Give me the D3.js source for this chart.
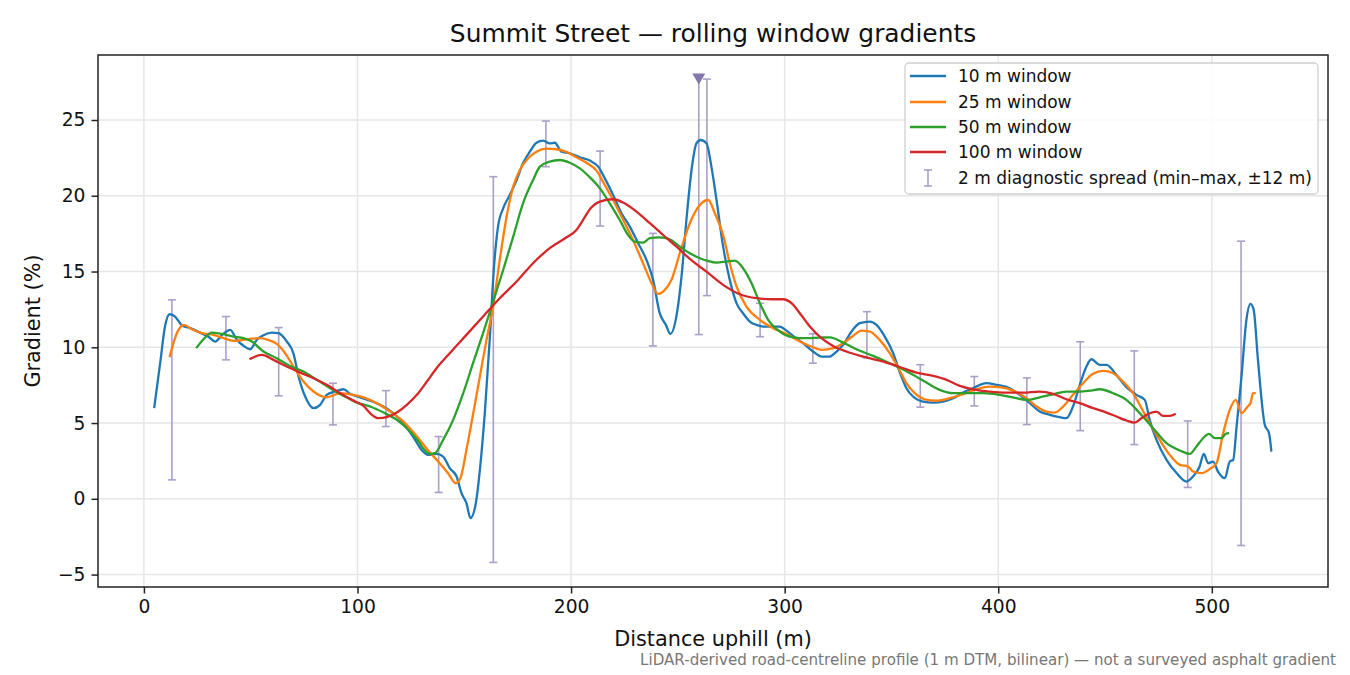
<!DOCTYPE html>
<html>
<head>
<meta charset="utf-8">
<script src="https://cdn.jsdelivr.net/npm/d3@7"></script>
<style>
  body { margin: 0; background: #fff; }
  svg { font-family: "DejaVu Sans", sans-serif; }
</style>
</head>
<body>
<div id="chart"></div>
<script>
// ---- data ----
const dist10 = [4.8, 7.6, 9.9, 12.0, 14.2, 18.2, 21.7, 26.3, 30.2, 33.4, 36.5, 40.4, 43.5, 46.6, 49.7, 52.9, 56.0, 59.9, 63.0, 66.9, 70.0, 72.4, 75.5, 79.4, 82.5, 85.6, 89.5, 93.5, 96.5, 101.2, 105.9, 110.6, 116.7, 121.4, 126.0, 130.0, 133.1, 137.0, 140.1, 143.2, 146.4, 148.7, 151.0, 152.9, 155.4, 157.3, 159.6, 162.0, 163.8, 165.8, 168.2, 171.3, 174.5, 177.5, 180.7, 183.8, 186.9, 190.0, 192.4, 195.5, 199.4, 204.1, 208.8, 212.7, 215.8, 219.7, 223.6, 227.5, 231.4, 235.3, 238.4, 241.5, 244.4, 246.5, 249.0, 251.7, 254.0, 256.4, 258.7, 260.6, 263.4, 265.7, 268.1, 271.2, 274.3, 277.5, 280.5, 283.7, 286.8, 289.9, 293.0, 297.7, 300.9, 303.9, 308.6, 313.3, 317.2, 321.1, 324.3, 327.4, 331.3, 335.2, 339.9, 343.0, 346.9, 350.8, 353.9, 357.0, 360.1, 364.8, 369.5, 374.2, 378.9, 383.5, 388.2, 394.5, 399.2, 405.4, 410.1, 414.8, 419.4, 424.1, 428.8, 431.9, 435.0, 438.2, 441.3, 443.6, 447.5, 450.7, 455.3, 460.0, 464.7, 468.6, 470.9, 474.1, 478.8, 483.5, 488.1, 491.2, 494.3, 496.2, 498.3, 500.6, 502.9, 506.1, 508.4, 510.0, 511.6, 513.9, 516.2, 518.1, 519.6, 521.6, 524.8, 526.8, 527.9];
const grad10 = [5.98, 8.95, 11.4, 12.18, 12.07, 11.4, 11.26, 10.97, 10.7, 10.38, 10.8, 11.15, 10.5, 10.1, 9.87, 10.5, 10.8, 10.97, 10.93, 10.38, 9.6, 8.07, 6.75, 5.98, 6.2, 6.86, 7.08, 7.23, 6.93, 6.7, 6.48, 6.2, 5.65, 4.99, 4.11, 3.23, 2.9, 2.97, 2.79, 2.02, 1.47, 0.37, -0.29, -1.27, -0.29, 1.91, 5.65, 10.7, 15.1, 17.96, 19.17, 20.05, 21.04, 22.14, 22.91, 23.5, 23.64, 23.46, 23.5, 22.91, 22.8, 22.54, 22.32, 21.92, 21.15, 20.05, 18.85, 17.96, 16.87, 15.77, 14.45, 12.25, 11.48, 10.88, 11.81, 14.66, 18.4, 21.7, 23.46, 23.68, 23.46, 21.92, 19.72, 16.64, 14.45, 12.9, 12.25, 11.7, 11.48, 11.37, 11.37, 11.37, 11.1, 10.75, 10.27, 9.72, 9.39, 9.39, 9.72, 10.16, 11.04, 11.59, 11.7, 11.48, 10.7, 9.61, 8.35, 7.3, 6.75, 6.42, 6.35, 6.42, 6.64, 7.01, 7.3, 7.63, 7.52, 7.3, 6.86, 6.31, 5.76, 5.54, 5.39, 5.32, 6.09, 7.52, 8.73, 9.21, 8.84, 8.84, 8.18, 7.37, 6.86, 6.53, 5.21, 3.89, 2.57, 1.7, 1.14, 1.47, 2.13, 2.97, 2.35, 2.46, 1.8, 1.36, 2.46, 2.57, 4.77, 8.07, 11.81, 12.86, 12.47, 9.17, 4.88, 4.33, 3.12];

const dist25 = [12.0, 15.4, 18.8, 22.4, 27.1, 32.6, 37.3, 42.0, 48.2, 54.4, 59.1, 62.2, 66.1, 70.0, 74.7, 79.4, 85.6, 91.9, 98.1, 102.8, 109.1, 115.3, 121.5, 127.8, 133.9, 138.5, 142.4, 146.0, 148.2, 151.0, 154.2, 157.3, 160.4, 163.5, 166.6, 169.8, 172.9, 176.0, 179.9, 183.8, 188.5, 193.2, 197.9, 202.5, 207.2, 211.9, 215.8, 219.7, 224.4, 229.0, 233.7, 237.7, 240.7, 243.9, 247.0, 250.9, 255.6, 260.3, 264.2, 267.3, 271.2, 274.3, 277.5, 282.1, 288.4, 294.6, 300.9, 307.1, 313.3, 317.2, 322.7, 327.4, 332.0, 336.0, 339.9, 344.5, 349.2, 353.9, 357.0, 360.9, 365.6, 371.1, 377.3, 383.5, 389.8, 396.0, 400.7, 406.9, 413.2, 417.9, 422.6, 426.4, 430.4, 435.0, 439.7, 444.4, 449.1, 453.8, 458.4, 463.1, 467.1, 470.9, 475.6, 480.3, 485.0, 488.9, 491.2, 495.1, 499.0, 502.2, 505.3, 508.4, 511.2, 513.9, 516.5, 518.1, 519.3, 520.6];
const grad25 = [9.35, 10.93, 11.48, 11.19, 10.93, 10.82, 10.6, 10.42, 10.53, 10.6, 10.44, 10.22, 9.61, 8.73, 7.74, 7.08, 6.7, 6.97, 6.86, 6.7, 6.31, 5.76, 5.1, 4.11, 3.05, 2.35, 1.69, 1.03, 1.36, 3.23, 5.65, 8.07, 10.49, 12.69, 15.77, 18.62, 20.6, 21.7, 22.47, 22.91, 23.11, 23.07, 22.89, 22.54, 22.18, 21.66, 20.71, 19.72, 18.4, 17.08, 15.55, 14.23, 13.52, 13.79, 14.45, 16.21, 18.19, 19.39, 19.72, 18.85, 17.41, 15.55, 14.0, 12.69, 11.81, 11.26, 10.88, 10.38, 10.0, 9.83, 9.94, 10.27, 10.75, 11.1, 11.04, 10.49, 9.61, 8.45, 7.63, 6.97, 6.57, 6.48, 6.64, 6.9, 7.23, 7.41, 7.37, 7.14, 6.64, 6.09, 5.76, 5.69, 6.09, 6.86, 7.63, 8.25, 8.44, 8.29, 7.74, 6.97, 5.98, 4.99, 3.89, 2.9, 2.24, 2.13, 1.8, 1.69, 1.96, 2.35, 4.33, 5.87, 6.53, 5.65, 6.05, 6.31, 6.97, 6.97];

const dist50 = [24.5, 27.9, 31.8, 36.5, 42.0, 46.6, 50.5, 56.0, 62.2, 68.5, 74.7, 81.0, 87.2, 93.5, 99.7, 105.9, 112.2, 118.4, 124.6, 128.5, 130.7, 133.9, 136.2, 140.1, 144.8, 149.5, 154.1, 158.8, 163.5, 168.2, 172.9, 177.5, 182.2, 185.4, 190.0, 194.7, 199.4, 204.1, 208.8, 213.5, 218.1, 222.8, 226.7, 229.8, 233.7, 236.9, 241.5, 246.2, 250.9, 255.6, 260.3, 264.0, 268.1, 272.8, 276.7, 280.5, 284.5, 288.4, 292.3, 297.7, 303.9, 310.2, 316.5, 321.1, 327.4, 333.6, 341.4, 349.2, 354.4, 360.1, 366.4, 372.6, 378.9, 385.1, 392.9, 400.7, 406.9, 413.2, 419.4, 425.7, 431.9, 438.2, 442.9, 447.5, 453.8, 460.0, 466.3, 472.5, 478.8, 485.0, 489.7, 492.8, 495.9, 498.7, 501.4, 504.5, 506.5, 508.1];
const grad50 = [9.94, 10.53, 10.97, 10.88, 10.71, 10.6, 10.38, 9.72, 9.28, 8.77, 8.4, 7.85, 7.3, 6.79, 6.35, 6.09, 5.69, 5.21, 4.44, 3.8, 3.34, 2.97, 3.01, 3.89, 5.21, 6.97, 8.95, 10.93, 13.01, 15.1, 17.3, 19.5, 21.04, 21.92, 22.25, 22.36, 22.18, 21.81, 21.22, 20.49, 19.5, 18.4, 17.41, 16.97, 16.91, 17.2, 17.26, 17.13, 16.64, 16.21, 15.88, 15.7, 15.59, 15.66, 15.72, 15.22, 14.23, 12.91, 11.81, 11.04, 10.66, 10.6, 10.64, 10.66, 10.31, 9.87, 9.43, 8.95, 8.62, 8.18, 7.67, 7.19, 6.97, 6.97, 6.97, 6.86, 6.7, 6.53, 6.7, 6.9, 7.08, 7.08, 7.14, 7.23, 6.97, 6.53, 5.65, 4.66, 3.67, 3.19, 2.97, 3.45, 4.0, 4.29, 4.0, 4.0, 4.29, 4.33];

const dist100 = [49.4, 55.2, 60.7, 66.9, 73.2, 79.4, 85.6, 91.9, 98.1, 102.8, 105.9, 109.8, 113.7, 118.4, 123.1, 127.8, 132.5, 137.0, 143.2, 151.0, 158.8, 166.6, 174.5, 182.2, 190.0, 197.9, 202.5, 205.6, 208.8, 213.5, 219.7, 224.4, 230.6, 236.9, 243.1, 249.4, 255.6, 263.4, 271.2, 279.0, 286.8, 294.6, 299.3, 303.2, 307.1, 311.8, 317.2, 322.7, 328.9, 336.7, 344.5, 353.9, 361.7, 369.5, 375.8, 382.0, 388.2, 396.0, 403.9, 411.6, 419.4, 425.7, 431.9, 438.2, 444.4, 450.7, 455.3, 460.0, 463.8, 467.0, 470.9, 474.1, 477.2, 480.3, 483.1];
const grad100 = [9.21, 9.5, 9.17, 8.73, 8.33, 7.96, 7.52, 6.97, 6.48, 6.13, 5.65, 5.32, 5.39, 5.69, 6.2, 6.86, 7.74, 8.62, 9.61, 10.82, 12.03, 13.24, 14.34, 15.55, 16.54, 17.26, 17.74, 18.4, 19.11, 19.61, 19.77, 19.55, 18.95, 18.19, 17.41, 16.64, 15.83, 14.99, 14.12, 13.5, 13.24, 13.17, 13.17, 12.91, 12.25, 11.37, 10.6, 10.09, 9.72, 9.39, 9.12, 8.7, 8.33, 8.11, 7.85, 7.45, 7.23, 7.08, 7.01, 7.01, 7.08, 6.93, 6.57, 6.31, 5.98, 5.69, 5.43, 5.17, 5.03, 5.32, 5.65, 5.76, 5.47, 5.47, 5.61];

// 2 m diagnostic spread (min–max within ±12 m)
const spreadDist = [13.1, 38.4, 63.1, 88.5, 113.3, 138.0, 163.6, 188.2, 213.6, 238.3, 263.6, 288.5, 313.2, 338.5, 363.5, 388.8, 413.4, 438.4, 463.7, 488.7, 513.7];
const spreadMin = [1.25, 9.17, 6.8, 4.88, 4.77, 0.42, -4.2, 21.92, 18.0, 10.09, 13.41, 10.7, 8.95, 9.3, 6.05, 6.13, 4.9, 4.5, 3.58, 0.75, -3.08];
const spreadMax = [13.13, 12.03, 11.3, 7.63, 7.14, 4.11, 21.26, 24.93, 22.95, 17.52, 27.7, 12.9, 10.9, 12.35, 8.85, 8.07, 7.98, 10.36, 9.76, 5.14, 17.0];
// spread at the steepest point, top marked as off-scale
const peakDist = [259.8];
const peakMin = [10.84];
const peakMax = [27.7];

const xTicks = [0, 100, 200, 300, 400, 500];
const yTicks = [-5, 0, 5, 10, 15, 20, 25];

const seriesNames = ["10 m window", "25 m window", "50 m window", "100 m window"];
const seriesColors = ["#1f77b4", "#ff7f0e", "#2ca02c", "#d62728"];
const seriesDist = [dist10, dist25, dist50, dist100];
const seriesGrad = [grad10, grad25, grad50, grad100];

// ---- layout ----
const W = 1350, H = 675;
const margin = {top: 55, right: 22, bottom: 88, left: 98};
const width = W - margin.left - margin.right;
const height = H - margin.top - margin.bottom;
const spreadColor = "#ab9fc9";

const root = d3.select("#chart").append("svg")
  .attr("width", W).attr("height", H);

const svg = root.append("g")
  .attr("transform", `translate(${margin.left},${margin.top})`);

const xScale = d3.scaleLinear().domain([-21.5, 554.4]).range([0, width]);
const yScale = d3.scaleLinear().domain([-5.82, 29.29]).range([height, 0]);

// grid
svg.append("g").selectAll("line").data(xTicks).join("line")
  .attr("x1", d => xScale(d)).attr("x2", d => xScale(d))
  .attr("y1", 0).attr("y2", height)
  .attr("stroke", "#e6e6e6").attr("stroke-width", 1.5);
svg.append("g").selectAll("line").data(yTicks).join("line")
  .attr("y1", d => yScale(d)).attr("y2", d => yScale(d))
  .attr("x1", 0).attr("x2", width)
  .attr("stroke", "#e6e6e6").attr("stroke-width", 1.5);

// spread bars
const bars = svg.append("g").attr("stroke", spreadColor).attr("stroke-width", 1.6);
spreadDist.forEach((d, i) => {
  const x = xScale(d);
  bars.append("line").attr("x1", x).attr("x2", x)
    .attr("y1", yScale(spreadMin[i])).attr("y2", yScale(spreadMax[i]));
  [spreadMin[i], spreadMax[i]].forEach(v => {
    bars.append("line").attr("x1", x - 4).attr("x2", x + 4)
      .attr("y1", yScale(v)).attr("y2", yScale(v));
  });
});
peakDist.forEach((d, i) => {
  const x = xScale(d);
  bars.append("line").attr("x1", x).attr("x2", x)
    .attr("y1", yScale(peakMin[i])).attr("y2", yScale(peakMax[i]));
  bars.append("line").attr("x1", x - 4).attr("x2", x + 4)
    .attr("y1", yScale(peakMin[i])).attr("y2", yScale(peakMin[i]));
  svg.append("path")
    .attr("transform", `translate(${x},${yScale(peakMax[i])})`)
    .attr("d", "M-6.5,-5.5L6.5,-5.5L0,5.5Z")
    .attr("fill", "#8475aa");
});

// lines
const line = d3.line().curve(d3.curveMonotoneX);
seriesNames.forEach((name, k) => {
  const pts = seriesDist[k].map((d, i) => [xScale(d), yScale(seriesGrad[k][i])]);
  svg.append("path")
    .attr("fill", "none")
    .attr("stroke", seriesColors[k])
    .attr("stroke-width", 2.3)
    .attr("stroke-linejoin", "round")
    .attr("d", line(pts));
});

// axes
const xAxis = d3.axisBottom(xScale).tickValues(xTicks).tickSize(6.5).tickPadding(6);
const yAxis = d3.axisLeft(yScale).tickValues(yTicks).tickSize(6.5).tickPadding(6)
  .tickFormat(d => d < 0 ? "\u2212" + Math.abs(d) : d);

const gx = svg.append("g").attr("transform", `translate(0,${height})`).call(xAxis);
const gy = svg.append("g").call(yAxis);
[gx, gy].forEach(g => {
  g.select(".domain").remove();
  g.selectAll(".tick line").attr("stroke", "#222").attr("stroke-width", 1.5);
  g.selectAll(".tick text").attr("font-size", 18.7).attr("fill", "#111")
    .attr("font-family", "DejaVu Sans");
});

svg.append("rect").attr("width", width).attr("height", height)
  .attr("fill", "none").attr("stroke", "#222").attr("stroke-width", 1.5);

// titles
root.append("text").attr("x", margin.left + width / 2).attr("y", 42)
  .attr("text-anchor", "middle").attr("font-size", 24.9).attr("fill", "#111")
  .text("Summit Street \u2014 rolling window gradients");
root.append("text").attr("x", margin.left + width / 2).attr("y", 646)
  .attr("text-anchor", "middle").attr("font-size", 20.8).attr("fill", "#111")
  .text("Distance uphill (m)");
root.append("text")
  .attr("transform", `translate(40,${margin.top + height / 2}) rotate(-90)`)
  .attr("text-anchor", "middle").attr("font-size", 20.8).attr("fill", "#111")
  .text("Gradient (%)");
root.append("text").attr("x", 1336).attr("y", 665)
  .attr("text-anchor", "end").attr("font-size", 15.1).attr("fill", "#777")
  .text("LiDAR-derived road-centreline profile (1 m DTM, bilinear) \u2014 not a surveyed asphalt gradient");

// legend
const lg = root.append("g").attr("transform", "translate(905,63)");
lg.append("rect").attr("width", 413).attr("height", 131).attr("rx", 4)
  .attr("fill", "#fff").attr("fill-opacity", 0.85)
  .attr("stroke", "#d0d0d0").attr("stroke-width", 1.3);
const rowY = [13, 39, 64, 89, 115];
seriesNames.forEach((name, k) => {
  lg.append("line").attr("x1", 5).attr("x2", 41)
    .attr("y1", rowY[k]).attr("y2", rowY[k])
    .attr("stroke", seriesColors[k]).attr("stroke-width", 2.3);
  lg.append("text").attr("x", 53).attr("y", rowY[k] + 6)
    .attr("font-size", 17).attr("fill", "#111").text(name);
});
const ly = rowY[4];
lg.append("line").attr("x1", 23).attr("x2", 23).attr("y1", ly - 8).attr("y2", ly + 8)
  .attr("stroke", spreadColor).attr("stroke-width", 1.6);
[ly - 8, ly + 8].forEach(v => lg.append("line").attr("x1", 19).attr("x2", 27)
  .attr("y1", v).attr("y2", v).attr("stroke", spreadColor).attr("stroke-width", 1.6));
lg.append("text").attr("x", 53).attr("y", ly + 6)
  .attr("font-size", 17).attr("fill", "#111")
  .text("2 m diagnostic spread (min\u2013max, \u00b112 m)");
</script>
</body>
</html>
